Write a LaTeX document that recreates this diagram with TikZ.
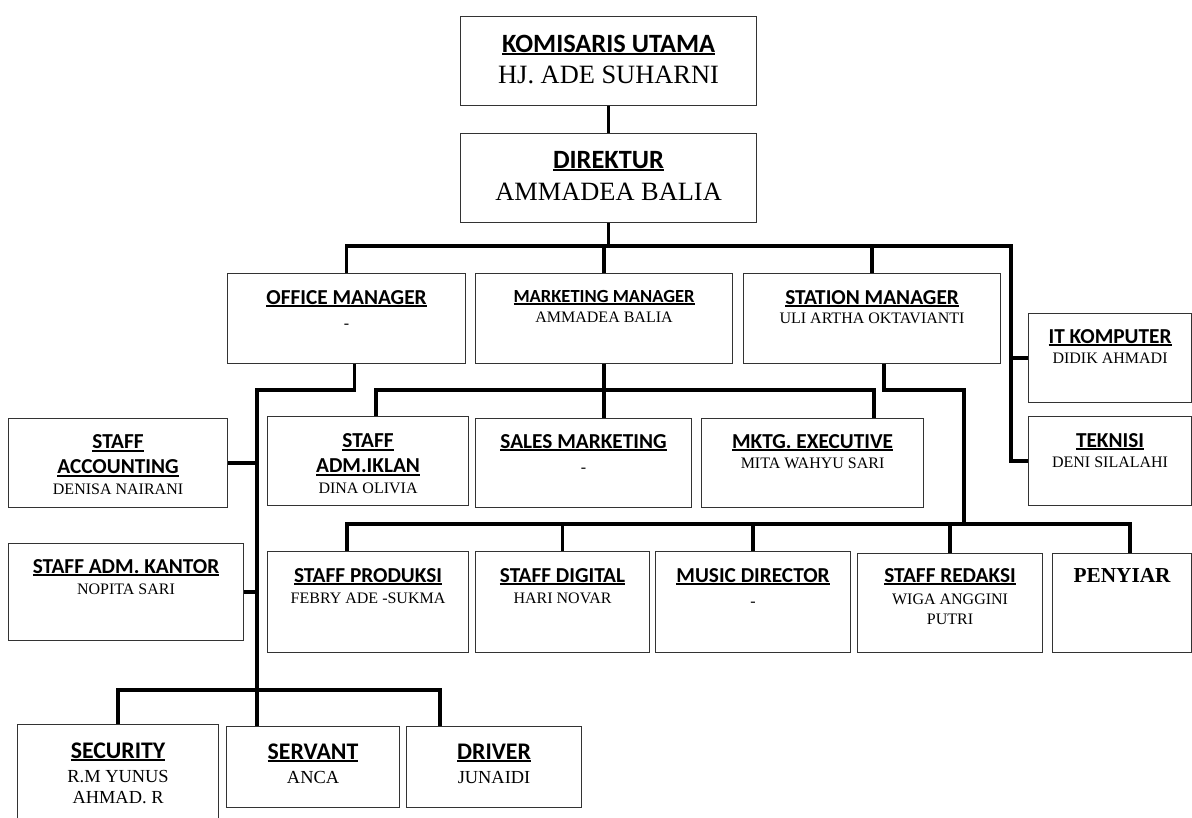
\documentclass[tikz,border=0pt]{standalone}
\usepackage{fontspec}
\setmainfont{Liberation Serif}
\newfontfamily\calibri{Carlito}
\newcommand\garis[1]{\setbox0\hbox{#1}\rlap{\rule[-3pt]{\wd0}{1.8pt}}\box0}

\begin{document}
\begin{tikzpicture}[x=1pt, y=-1pt]
  \useasboundingbox (0,0) rectangle (1192,817);

  \tikzstyle{kotak}=[draw=black!80, line width=1.1pt, inner sep=0pt, anchor=north west]
  \tikzstyle{hubung}=[line width=3.2pt]
  \tikzstyle{jdl}=[anchor=base, inner sep=0pt, align=center, font=\fontsize{21.3}{25}\selectfont\calibri\bfseries]
  \tikzstyle{nama}=[anchor=base, inner sep=0pt, align=center, font=\fontsize{16}{20}\selectfont]

  % Pimpinan.
  \node[kotak, minimum width=296, minimum height=89] (kom) at (460,16) {};
  \node[jdl, font=\fontsize{26.4}{30}\selectfont\calibri\bfseries] (kom-j) at ([yshift=-36]kom.north) {\garis{KOMISARIS UTAMA}};
  \node[nama, font=\fontsize{26.4}{30}\selectfont] (kom-n) at ([yshift=-67]kom.north) {HJ. ADE SUHARNI};

  \node[kotak, minimum width=296, minimum height=89] (dir) at (460,133) {};
  \node[jdl, font=\fontsize{26.4}{30}\selectfont\calibri\bfseries] (dir-j) at ([yshift=-35]dir.north) {\garis{DIREKTUR}};
  \node[nama, font=\fontsize{26.4}{30}\selectfont] (dir-n) at ([yshift=-67]dir.north) {AMMADEA BALIA};

  % Manajer.
  \node[kotak, minimum width=238, minimum height=90] (om) at (227,273) {};
  \node[jdl] (om-j) at ([yshift=-31]om.north) {\garis{OFFICE MANAGER}};
  \node[nama] (om-n) at ([yshift=-55]om.north) {-};

  \node[kotak, minimum width=257, minimum height=90] (mm) at (475,273) {};
  \node[jdl, font=\fontsize{18.5}{22}\selectfont\calibri\bfseries] (mm-j) at ([yshift=-29]mm.north) {\garis{MARKETING MANAGER}};
  \node[nama] (mm-n) at ([yshift=-49]mm.north) {AMMADEA BALIA};

  \node[kotak, minimum width=257, minimum height=90] (sm) at (743,273) {};
  \node[jdl] (sm-j) at ([yshift=-31]sm.north) {\garis{STATION MANAGER}};
  \node[nama] (sm-n) at ([yshift=-50]sm.north) {ULI ARTHA OKTAVIANTI};

  \node[kotak, minimum width=163, minimum height=89] (it) at (1028,313) {};
  \node[jdl] (it-j) at ([yshift=-30]it.north) {\garis{IT KOMPUTER}};
  \node[nama] (it-n) at ([yshift=-50]it.north) {DIDIK AHMADI};

  \node[kotak, minimum width=163, minimum height=89] (tek) at (1028,416) {};
  \node[jdl] (tek-j) at ([yshift=-31]tek.north) {\garis{TEKNISI}};
  \node[nama] (tek-n) at ([yshift=-51]tek.north) {DENI SILALAHI};

  % Staf kantor.
  \node[kotak, minimum width=219, minimum height=89] (sa) at (8,418) {};
  \node[jdl, anchor=north] (sa-j) at ([yshift=-16.5]sa.north) {\garis{STAFF}\\\garis{ACCOUNTING}};
  \node[nama] (sa-n) at ([yshift=-76]sa.north) {DENISA NAIRANI};

  \node[kotak, minimum width=235, minimum height=97] (sk) at (8,543) {};
  \node[jdl] (sk-j) at ([yshift=-30]sk.north) {\garis{STAFF ADM. KANTOR}};
  \node[nama] (sk-n) at ([yshift=-51]sk.north) {NOPITA SARI};

  % Staf pemasaran.
  \node[kotak, minimum width=201, minimum height=89] (iklan) at (267,416) {};
  \node[jdl, anchor=north] (iklan-j) at ([yshift=-17.5]iklan.north) {\garis{STAFF}\\\garis{ADM.IKLAN}};
  \node[nama] (iklan-n) at ([yshift=-77]iklan.north) {DINA OLIVIA};

  \node[kotak, minimum width=216, minimum height=89] (sales) at (475,418) {};
  \node[jdl] (sales-j) at ([yshift=-30]sales.north) {\garis{SALES MARKETING}};
  \node[nama] (sales-n) at ([yshift=-54]sales.north) {-};

  \node[kotak, minimum width=222, minimum height=89] (exe) at (701,418) {};
  \node[jdl] (exe-j) at ([yshift=-30]exe.north) {\garis{MKTG. EXECUTIVE}};
  \node[nama] (exe-n) at ([yshift=-50]exe.north) {MITA WAHYU SARI};

  % Staf siaran.
  \node[kotak, minimum width=201, minimum height=101] (prod) at (267,551) {};
  \node[jdl] (prod-j) at ([yshift=-31]prod.north) {\garis{STAFF PRODUKSI}};
  \node[nama] (prod-n) at ([yshift=-52]prod.north) {FEBRY ADE -SUKMA};

  \node[kotak, minimum width=174, minimum height=101] (dig) at (475,551) {};
  \node[jdl] (dig-j) at ([yshift=-31]dig.north) {\garis{STAFF DIGITAL}};
  \node[nama] (dig-n) at ([yshift=-52]dig.north) {HARI NOVAR};

  \node[kotak, minimum width=195, minimum height=101] (md) at (655,551) {};
  \node[jdl] (md-j) at ([yshift=-31]md.north) {\garis{MUSIC DIRECTOR}};
  \node[nama] (md-n) at ([yshift=-55]md.north) {-};

  \node[kotak, minimum width=185, minimum height=99] (red) at (857,553) {};
  \node[jdl] (red-j) at ([yshift=-29]red.north) {\garis{STAFF REDAKSI}};
  \node[nama, anchor=north] (red-n) at ([yshift=-40.2]red.north) {WIGA ANGGINI\\PUTRI};

  \node[kotak, minimum width=139, minimum height=99] (pny) at (1052,553) {};
  \node[jdl, font=\fontsize{21.3}{25}\selectfont\bfseries] (pny-j) at ([yshift=-29]pny.north) {PENYIAR};

  % Staf umum.
  \node[kotak, minimum width=201, minimum height=96] (sec) at (17,724) {};
  \node[jdl, font=\fontsize{23.8}{28}\selectfont\calibri\bfseries] (sec-j) at ([yshift=-34]sec.north) {\garis{SECURITY}};
  \node[nama, anchor=north, font=\fontsize{18.4}{21}\selectfont] (sec-n) at ([yshift=-45.7]sec.north) {R.M YUNUS\\AHMAD. R};

  \node[kotak, minimum width=173, minimum height=81] (srv) at (226,726) {};
  \node[jdl, font=\fontsize{23.8}{28}\selectfont\calibri\bfseries] (srv-j) at ([yshift=-33]srv.north) {\garis{SERVANT}};
  \node[nama, font=\fontsize{18.4}{21}\selectfont] (srv-n) at ([yshift=-57]srv.north) {ANCA};

  \node[kotak, minimum width=175, minimum height=81] (drv) at (406,726) {};
  \node[jdl, font=\fontsize{23.8}{28}\selectfont\calibri\bfseries] (drv-j) at ([yshift=-33]drv.north) {\garis{DRIVER}};
  \node[nama, font=\fontsize{18.4}{21}\selectfont] (drv-n) at ([yshift=-57]drv.north) {JUNAIDI};

  % Garis atas.
  \coordinate (b1) at (1011,246);
  \draw[hubung] (kom) -- (dir);
  \draw[hubung] (dir.south) -- (dir.south |- b1);
  \draw[hubung] (om.north) |- (b1) |- (tek.west);
  \draw[hubung] (mm.north) -- (mm.north |- b1);
  \draw[hubung] (sm.north) -- (sm.north |- b1);
  \draw[hubung] (it.west) -- (it.west -| b1);

  % Garis kantor.
  \coordinate (c1) at (257,390);
  \coordinate (c2) at (440,690);
  \draw[hubung] ([xshift=8]om.south) |- (c1) -- (c1 |- srv.north);
  \draw[hubung] (sa.east) -- (sa.east -| c1);
  \draw[hubung] (sk.east) -- (sk.east -| c1);
  \draw[hubung] (sec.north) |- (c2) -- (c2 |- drv.north);

  % Garis pemasaran.
  \coordinate (m1) at (376,390);
  \coordinate (m2) at (874,390);
  \draw[hubung] (mm.south) -- (mm.south |- sales.north);
  \draw[hubung] (m1 |- iklan.north) -- (m1) -- (m2) -- (m2 |- exe.north);

  % Garis siaran.
  \coordinate (s1) at (964,390);
  \coordinate (s2) at (347,524);
  \coordinate (s3) at (1130,524);
  \draw[hubung] ([xshift=12]sm.south) |- (s1) -- (s1 |- s2);
  \draw[hubung] (s2 |- prod.north) -- (s2) -- (s3) -- (s3 |- pny.north);
  \foreach \n in {dig, md, red}
    \draw[hubung] (\n.north) -- (\n.north |- s2);
\end{tikzpicture}
\end{document}
